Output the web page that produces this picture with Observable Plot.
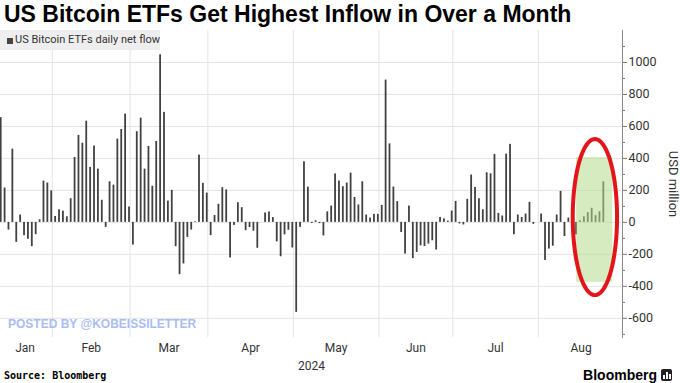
<!DOCTYPE html>
<html>
<head>
<meta charset="utf-8">
<script src="https://cdn.jsdelivr.net/npm/d3@7"></script>
<script src="https://cdn.jsdelivr.net/npm/@observablehq/plot@0.6"></script>
<style>
  html, body { margin: 0; padding: 0; background: #fff; }
  body { width: 680px; height: 383px; position: relative; overflow: hidden; font-family: "Liberation Sans", Arial, sans-serif; }
  #title { position: absolute; left: 4px; top: 1px; font-size: 23px; font-weight: bold; color: #000; white-space: nowrap; }
  #chart { position: absolute; left: 0; top: 30px; }
  #legend { position: absolute; left: 0; top: 30px; width: 160px; height: 20px; background: #eeeeee; font-family: Roboto, sans-serif; font-size: 11px; color: #333; line-height: 20px; white-space: nowrap; }
  #legend .sw { position: absolute; left: 7px; top: 8px; width: 6px; height: 6px; background: #444; }
  #legend .lb { position: absolute; left: 15px; top: 0; }
  #watermark { position: absolute; left: 8px; top: 317px; font-size: 12px; font-weight: bold; color: #aabdf2; white-space: nowrap; font-family: "Liberation Sans", Arial, sans-serif; }
  #source { position: absolute; left: 4px; top: 370px; font-family: "DejaVu Sans Mono", monospace; font-weight: bold; font-size: 10px; color: #000; white-space: nowrap; }
  #brand { position: absolute; right: 8px; top: 367px; font-family: "Liberation Sans", Arial, sans-serif; font-weight: bold; font-size: 14px; color: #000; white-space: nowrap; display: flex; align-items: center; gap: 4px; }
  #brand .ic { width: 11px; height: 12px; background: #222; border-radius: 2px; position: relative; }
  #brand .ic span { position: absolute; bottom: 2px; width: 2px; background: #fff; }
</style>
</head>
<body>
<div id="title">US Bitcoin ETFs Get Highest Inflow in Over a Month</div>
<div id="chart"></div>
<div id="legend"><div class="sw"></div><div class="lb">US Bitcoin ETFs daily net flow</div></div>
<div id="watermark">POSTED BY @KOBEISSILETTER</div>
<div id="source">Source: Bloomberg</div>
<div id="brand">Bloomberg<div class="ic"><span style="left:2px;height:4px"></span><span style="left:5px;height:7px"></span><span style="left:8px;height:5px"></span></div></div>
<script>
// Month names and number of trading-day slots per month (Aug runs to month end, partly empty)
const months = ["Jan", "Feb", "Mar", "Apr", "May", "Jun", "Jul", "Aug"];
const tradingDays = [14, 20, 20, 22, 22, 19, 22, 22];
const yearLabel = "2024";

// Daily net flow, USD million
const janFlow = [655, 215, -48, 458, -125, 46, -83, -106, -152, -77, 16, 258, 246, 197];
const febFlow = [37, 79, 70, 35, 148, 406, 544, 495, 633, 344, 477, 333, 138, -31, 254, 233, 521, 581, 677, 96];
const marFlow = [-142, 567, 652, 333, 475, 226, 506, 1048, 688, 133, 200, -152, -327, -260, -94, -48, 4, 421, 244, 183];
const aprFlow = [-83, 43, 113, 217, 203, -223, -19, 123, 92, -52, -32, -55, -162, 0, 59, 65, 30, -122, -215, -78, -49, -160];
const mayFlow = [-563, -31, 379, 220, -7, 10, -8, -85, 66, 102, 303, 258, 223, 246, 308, 156, 109, 254, 46, 27, 50, 50];
const junFlow = [106, 890, 491, 221, 130, -63, -198, 102, -227, -188, -147, -151, -136, -115, -173, 31, 22, 8, 71];
const julFlow = [131, -10, -16, 144, 296, 219, 148, 79, 310, 304, 425, 56, 40, 427, 488, -77, 46, 31, 52, 125, -12, 0];
const augFlow = [52, -238, -167, -149, 46, 194, -89, 27, 0, -78, 10, 35, 61, 88, 42, 66, 254];

const yTicks = [-600, -400, -200, 0, 200, 400, 600, 800, 1000];
const yMinorTicks = [-700, -500, -300, -100, 100, 300, 500, 700, 900, 1100];

// Highlight annotation (in data units: trading-day index and USD million)
const highlightBox = {x1: 148.5, x2: 157.8, y1: -375, y2: 405};
const highlightEllipse = {cx: 153.2, cy: 33, rx: 5.7, ry: 488};

const monthly = [janFlow, febFlow, marFlow, aprFlow, mayFlow, junFlow, julFlow, augFlow];
const bars = [];
const monthInfo = [];
let start = 0;
monthly.forEach((arr, m) => {
  arr.forEach((v, k) => bars.push({i: start + k, v}));
  monthInfo.push({name: months[m], start, end: start + tradingDays[m]});
  start += tradingDays[m];
});

const ellipsePts = d3.range(0, 120).map(k => {
  const t = (k / 120) * 2 * Math.PI;
  return {x: highlightEllipse.cx + highlightEllipse.rx * Math.cos(t), y: highlightEllipse.cy + highlightEllipse.ry * Math.sin(t)};
});

const plot = Plot.plot({
  width: 680,
  height: 345,
  marginLeft: 0,
  marginRight: 58,
  marginTop: 0,
  marginBottom: 38,
  x: {type: "linear", domain: [0.32, 160.3], axis: null},
  y: {domain: [-720, 1200], axis: null},
  style: {fontFamily: "Roboto, sans-serif", fontSize: "12px", color: "#333", background: "transparent", overflow: "visible"},
  marks: [
    Plot.ruleY(yTicks, {stroke: "#e4e4e4", strokeWidth: 1}),
    Plot.ruleX(monthInfo.slice(1), {x: d => d.start - 0.35, stroke: "#e4e4e4", strokeWidth: 1}),
    Plot.rectY(bars, {x1: d => d.i + 0.27, x2: d => d.i + 0.73, y: "v", fill: "#414141"}),
    Plot.rect([highlightBox], {x1: "x1", x2: "x2", y1: "y1", y2: "y2", fill: "#b4dc8c", fillOpacity: 0.55}),
    Plot.line(ellipsePts, {x: "x", y: "y", stroke: "#e3151b", strokeWidth: 4, curve: "linear-closed"}),
    Plot.frame({anchor: "right", stroke: "#8a8a8a"}),
    Plot.axisY({anchor: "right", ticks: yTicks, tickFormat: d => String(d), tickSize: 4, tickPadding: 2, stroke: "#777", fill: "#333", fontSize: 12.5}),
    Plot.axisY({anchor: "right", ticks: yMinorTicks, tickSize: 2, text: null, stroke: "#777", label: null}),
    Plot.text(["USD million"], {frameAnchor: "right", dx: 51, rotate: 90, textAnchor: "middle", fontSize: 13, fill: "#333"}),
    Plot.text(monthInfo, {x: d => (d.start + d.end) / 2 - 0.35, text: "name", frameAnchor: "bottom", dy: 14, fill: "#333", fontSize: 12}),
    Plot.text([yearLabel], {text: d => d, frameAnchor: "bottom", dy: 32, fill: "#333", fontSize: 12})
  ]
});
document.getElementById("chart").appendChild(plot);
</script>
</body>
</html>
